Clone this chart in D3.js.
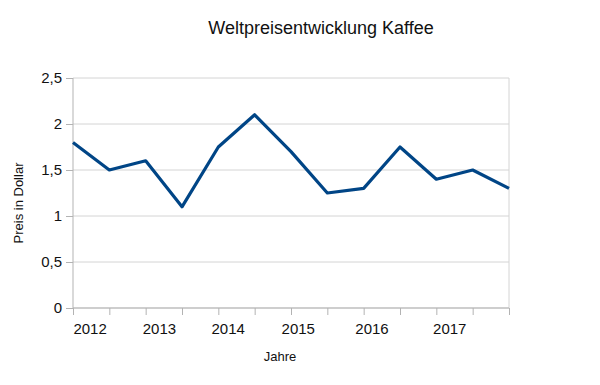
<!DOCTYPE html>
<html>
<head>
<meta charset="utf-8">
<script src="https://cdn.jsdelivr.net/npm/d3@7"></script>
<style>
  body { margin: 0; background: #fff; }
  svg text { font-family: "Liberation Sans", Arial, sans-serif; fill: #111; }
  .axis path, .axis line { stroke: #b3b3b3; }
  .grid line { stroke: #d4d4d4; }
</style>
</head>
<body>
<div id="chart"></div>
<script>
// Data points (13 samples along the x axis)
var categories = ["1", "2", "3", "4", "5", "6", "7", "8", "9", "10", "11", "12", "13"];
var prices = [1.8, 1.5, 1.6, 1.1, 1.75, 2.1, 1.7, 1.25, 1.3, 1.75, 1.4, 1.5, 1.3];

// Year labels and where they sit along the category index
var yearLabels = ["2012", "2013", "2014", "2015", "2016", "2017"];
var yearLabelAt = [0.47, 2.38, 4.27, 6.2, 8.23, 10.37];

var yTicks = [0, 0.5, 1, 1.5, 2, 2.5];

var margin = { top: 78, right: 91, bottom: 77, left: 73 };
var width = 600 - margin.left - margin.right;
var height = 385 - margin.top - margin.bottom;

var svg = d3.select("#chart").append("svg")
    .attr("width", 600)
    .attr("height", 385);

var g = svg.append("g")
    .attr("transform", "translate(" + margin.left + "," + margin.top + ")");

// Scales
var x = d3.scaleLinear()
    .domain([0, categories.length - 1])
    .range([0, width]);
var y = d3.scaleLinear()
    .domain([0, 2.5])
    .range([height, 0]);

// Horizontal grid lines
g.append("g")
    .attr("class", "grid")
    .selectAll("line")
    .data(yTicks)
    .enter()
    .append("line")
    .attr("x1", 0)
    .attr("x2", width)
    .attr("y1", function(d) { return y(d); })
    .attr("y2", function(d) { return y(d); });

// Right border
g.append("line")
    .attr("x1", width).attr("x2", width)
    .attr("y1", 0).attr("y2", height)
    .attr("stroke", "#d4d4d4");

// Y axis
var yAxis = d3.axisLeft(y)
    .tickValues(yTicks)
    .tickSize(7)
    .tickPadding(4)
    .tickFormat(function(d) { return String(d).replace(".", ","); });
var yg = g.append("g")
    .attr("class", "axis y-axis")
    .call(yAxis);
yg.select(".domain").attr("d", "M0," + height + "V0");
yg.selectAll("text").style("font-size", "15px");

// X axis: tick marks at each category
var xAxis = d3.axisBottom(x)
    .tickValues(d3.range(categories.length))
    .tickSize(7)
    .tickFormat("");
var xg = g.append("g")
    .attr("class", "axis x-axis")
    .attr("transform", "translate(0," + height + ")")
    .call(xAxis);
xg.select(".domain").attr("d", "M0,0H" + width);

// Year labels
g.append("g")
    .selectAll("text")
    .data(yearLabels)
    .enter()
    .append("text")
    .attr("x", function(d, i) { return x(yearLabelAt[i]); })
    .attr("y", height + 26)
    .style("text-anchor", "middle")
    .style("font-size", "15px")
    .text(function(d) { return d; });

// Line
var line = d3.line()
    .x(function(d, i) { return x(i); })
    .y(function(d) { return y(d); });

g.append("path")
    .datum(prices)
    .attr("fill", "none")
    .attr("stroke", "#004586")
    .attr("stroke-width", 3.2)
    .attr("stroke-linejoin", "round")
    .attr("d", line);

// Title
svg.append("text")
    .attr("x", 321)
    .attr("y", 34)
    .style("text-anchor", "middle")
    .style("font-size", "18px")
    .text("Weltpreisentwicklung Kaffee");

// Axis titles
svg.append("text")
    .attr("x", 280)
    .attr("y", 361)
    .style("text-anchor", "middle")
    .style("font-size", "13px")
    .text("Jahre");

svg.append("text")
    .attr("transform", "translate(23,203) rotate(-90)")
    .style("text-anchor", "middle")
    .style("font-size", "13px")
    .text("Preis in Dollar");
</script>
</body>
</html>
